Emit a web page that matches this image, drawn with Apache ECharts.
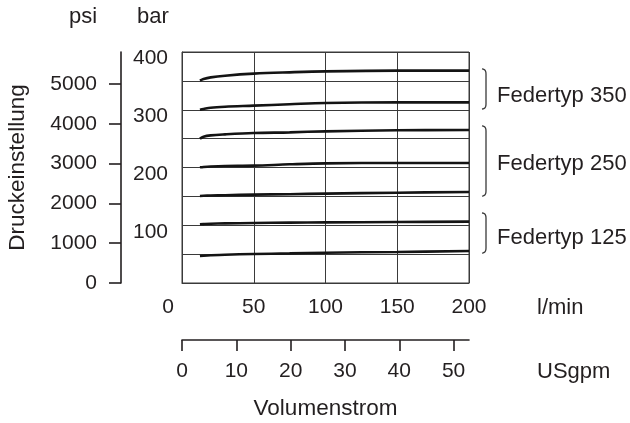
<!DOCTYPE html>
<html><head><meta charset="utf-8">
<script src="https://cdn.jsdelivr.net/npm/echarts@6/dist/echarts.min.js"></script>
<style>html,body{margin:0;padding:0;background:#fff}#c{width:630px;height:423px}</style>
</head><body><div id="c"></div>
<script>
// ---- data ----
const flowLpm = [12.5, 15, 20, 30, 50, 75, 100, 150, 200];
const curve1 = [350.4, 353.2, 356.1, 359.0, 362.5, 364.8, 366.5, 367.7, 367.7];
const curve2 = [300.0, 301.3, 303.6, 305.3, 307.1, 309.5, 311.7, 312.8, 312.8];
const curve3 = [250.0, 253.4, 255.7, 257.4, 259.7, 260.9, 262.6, 264.4, 264.9];
const curve4 = [200.3, 201.0, 201.8, 202.6, 203.2, 205.5, 207.2, 207.8, 207.8];
const curve5 = [150.7, 151.0, 151.4, 152.0, 153.0, 153.8, 154.7, 156.4, 157.6];
const curve6 = [101.6, 102.0, 102.6, 103.2, 103.9, 104.5, 105.0, 105.6, 106.2];
const curve7 = [46.8, 47.3, 48.0, 49.0, 50.2, 51.3, 52.5, 53.7, 55.4];
const barTicks = [100, 200, 300, 400];
const psiTicks = [0, 1000, 2000, 3000, 4000, 5000];
const lpmTicks = [0, 50, 100, 150, 200];
const gpmTicks = [0, 10, 20, 30, 40, 50];
const springNames = ['Federtyp 350', 'Federtyp 250', 'Federtyp 125'];
const bracketLow = [301.3, 150.6, 51.9];
const bracketHigh = [370.6, 271.9, 121.2];
const springLabelBar = [323.8, 206.0, 77.9];

const BAR_TO_PSI = 14.5038;
const LPM_PER_GPM = 3.78541;
const FONT = "'Liberation Sans', Arial, Helvetica, sans-serif";
const TXT = '#231f20';
const FS = 21;
const FSW = 22;

const curves = [curve1, curve2, curve3, curve4, curve5, curve6, curve7];
const chart = echarts.init(document.getElementById('c'), null, {renderer: 'canvas'});

const baseLabel = {fontFamily: FONT, fontSize: FS, color: TXT};
const wordLabel = {fontFamily: FONT, fontSize: FSW, color: TXT};
const plain = v => String(v);

chart.setOption({
  animation: false,
  backgroundColor: '#fff',
  textStyle: {fontFamily: FONT},
  grid: {left: 182, top: 52, width: 287, height: 231, show: true, borderColor: '#3a3a3a', borderWidth: 1,
         backgroundColor: 'transparent', containLabel: false, outerBoundsMode: 'none'},
  xAxis: [
    {
      type: 'value', min: 0, max: 200, interval: 50, position: 'bottom', nameMoveOverlap: false,
      axisLine: {show: true, onZero: false, lineStyle: {color: '#3a3a3a', width: 1}},
      axisTick: {show: false},
      splitLine: {show: true, lineStyle: {color: '#3a3a3a', width: 1}},
      axisLabel: Object.assign({}, baseLabel, {
        customValues: lpmTicks, margin: 14,
        formatter: v => v === 0 ? '{z|0}' : String(v),
        rich: {z: {fontFamily: FONT, fontSize: FS, color: TXT, padding: [0, 28, 0, 0]}}
      }),
      name: 'l/min', nameLocation: 'end', nameGap: 68,
      nameTextStyle: Object.assign({}, wordLabel, {align: 'left', verticalAlign: 'top', lineHeight: 50})
    },
    {
      type: 'value', min: 0, max: 200 / LPM_PER_GPM, position: 'bottom', offset: 57, nameMoveOverlap: false,
      axisLine: {show: true, onZero: false, lineStyle: {color: '#231f20', width: 1.6}},
      axisTick: {show: true, customValues: gpmTicks, length: 11, lineStyle: {color: '#231f20', width: 1.6}},
      splitLine: {show: false},
      axisLabel: Object.assign({}, baseLabel, {customValues: gpmTicks, margin: 21, formatter: plain}),
      name: 'USgpm', nameLocation: 'end', nameGap: 68,
      nameTextStyle: Object.assign({}, wordLabel, {align: 'left', verticalAlign: 'top', lineHeight: 64})
    },
    {
      type: 'value', min: 0, max: 200 / LPM_PER_GPM, position: 'bottom', offset: 57, nameMoveOverlap: false,
      axisLine: {show: false, onZero: false}, axisTick: {show: false}, axisLabel: {show: false}, splitLine: {show: false},
      name: 'Volumenstrom', nameLocation: 'middle', nameGap: 57,
      nameTextStyle: Object.assign({}, wordLabel, {fontSize: 22.5})
    }
  ],
  yAxis: [
    {
      type: 'value', min: 0, max: 400, interval: 50, position: 'left', nameMoveOverlap: false,
      axisLine: {show: true, onZero: false, lineStyle: {color: '#3a3a3a', width: 1}},
      axisTick: {show: false},
      splitLine: {show: true, lineStyle: {color: '#3a3a3a', width: 1}},
      axisLabel: Object.assign({}, baseLabel, {customValues: barTicks, margin: 14, verticalAlign: 'top', lineHeight: 13, formatter: plain}),
      name: 'bar', nameLocation: 'end', nameGap: 24,
      nameTextStyle: Object.assign({}, wordLabel, {padding: [0, 58, 0, 0]})
    },
    {
      type: 'value', min: 0, max: 400 * BAR_TO_PSI, position: 'left', offset: 61, nameMoveOverlap: false,
      axisLine: {show: true, onZero: false, lineStyle: {color: '#231f20', width: 1.6}},
      axisTick: {show: true, customValues: psiTicks, length: 12, lineStyle: {color: '#231f20', width: 1.6}},
      splitLine: {show: false},
      axisLabel: Object.assign({}, baseLabel, {customValues: psiTicks, margin: 24, formatter: plain}),
      name: 'psi', nameLocation: 'end', nameGap: 24,
      nameTextStyle: Object.assign({}, wordLabel, {padding: [0, 76, 0, 0]})
    },
    {
      type: 'value', min: 0, max: 400, position: 'left', offset: 61, nameMoveOverlap: false,
      axisLine: {show: false, onZero: false}, axisTick: {show: false}, axisLabel: {show: false}, splitLine: {show: false},
      name: 'Druckeinstellung', nameLocation: 'middle', nameGap: 92, nameRotate: 90,
      nameTextStyle: Object.assign({}, wordLabel, {fontSize: 22.5})
    }
  ],
  series: curves.map((c, i) => ({
    type: 'line', xAxisIndex: 0, yAxisIndex: 0,
    data: flowLpm.map((x, j) => [x, c[j]]),
    smooth: 0.35, showSymbol: false, symbol: 'none',
    lineStyle: {color: '#141414', width: 2.6},
    z: 5, silent: true
  }))
});

// brackets and spring type labels, positioned through the bar axis
function quad(p0, p1, p2, n) {
  const pts = [];
  for (let k = 0; k <= n; k++) {
    const t = k / n, u = 1 - t;
    pts.push([u * u * p0[0] + 2 * u * t * p1[0] + t * t * p2[0], u * u * p0[1] + 2 * u * t * p1[1] + t * t * p2[1]]);
  }
  return pts;
}
const elements = [];
const rightPx = chart.convertToPixel({xAxisIndex: 0}, 200);
const xCurl = rightPx + 13, xLine = xCurl + 4;
for (let i = 0; i < springNames.length; i++) {
  const yTop = chart.convertToPixel({yAxisIndex: 0}, bracketHigh[i]);
  const yBot = chart.convertToPixel({yAxisIndex: 0}, bracketLow[i]);
  const pts = quad([xCurl, yTop], [xLine, yTop], [xLine, yTop + 5], 6)
    .concat(quad([xLine, yBot - 5], [xLine, yBot], [xCurl, yBot], 6));
  elements.push({
    type: 'polyline', shape: {points: pts},
    style: {fill: null, stroke: '#3a3a3a', lineWidth: 1.3}
  });
  elements.push({
    type: 'text', x: xLine + 11, y: chart.convertToPixel({yAxisIndex: 0}, springLabelBar[i]),
    style: {text: springNames[i], font: `${FSW}px ${FONT}`, fill: TXT, align: 'left', verticalAlign: 'middle'}
  });
}
chart.setOption({graphic: {elements}});
</script></body></html>
